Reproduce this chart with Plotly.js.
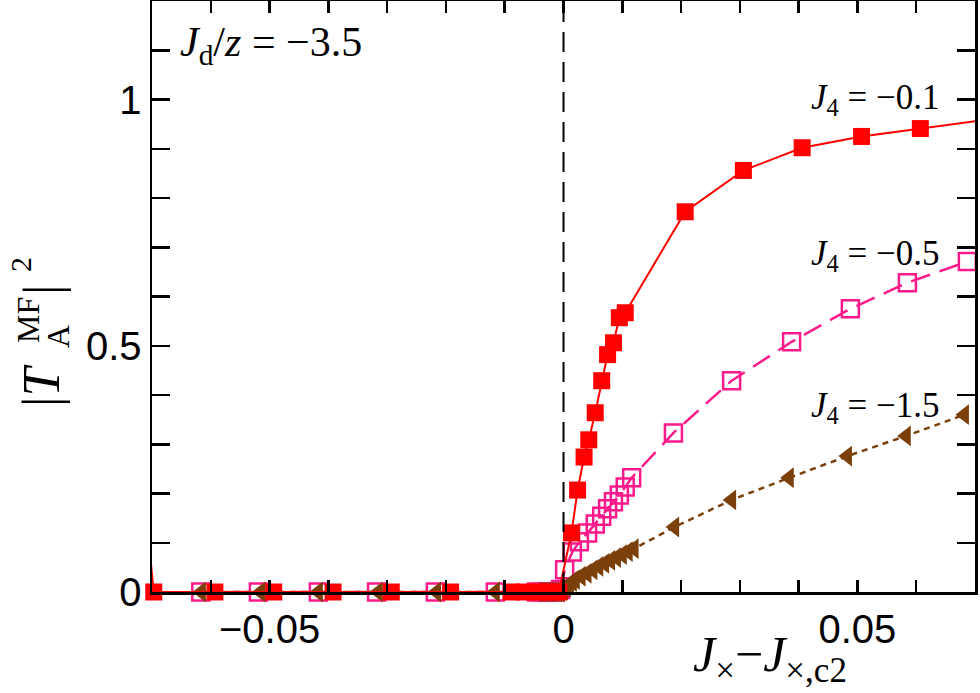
<!DOCTYPE html>
<html>
<head>
<meta charset="utf-8">
<script src="https://cdn.plot.ly/plotly-3.0.1.min.js"></script>
<style>
  html, body { margin: 0; padding: 0; background: #fff; }
  #plot { width: 980px; height: 693px; }
</style>
</head>
<body>
<div id="plot"></div>
<script>
// |T_A^MF|^2 versus J_x - J_x,c2 at J_d/z = -3.5, for three values of J4

// J4 = -0.1 (filled squares, solid line); first and last points lie just outside the x range
const xJ4m01 = [-0.0702, -0.0697, -0.0593, -0.0493, -0.0392, -0.0293, -0.0192, -0.0089, -0.0066, -0.0045, -0.0025, -0.0008,
                0.00136, 0.0024, 0.0035, 0.0043, 0.0054, 0.0065, 0.0075, 0.0085, 0.0095, 0.0105,
                0.0207, 0.0306, 0.0406, 0.0507, 0.0607, 0.0707];
const yJ4m01 = [0.06, 0, 0, 0, 0, 0, 0, 0, 0, 0, 0, 0,
                0.120, 0.207, 0.274, 0.309, 0.364, 0.429, 0.482, 0.506, 0.557, 0.567,
                0.772, 0.856, 0.902, 0.925, 0.941, 0.957];

// J4 = -0.5 (open squares, long-dashed line)
const xJ4m05 = [-0.0617, -0.0519, -0.0417, -0.0318, -0.0218, -0.0116, -0.0046, -0.0035, -0.0025, -0.0015, -0.0005,
                0.0002, 0.0015, 0.0027, 0.0041, 0.0054, 0.0065, 0.0075, 0.0085, 0.0095, 0.0105, 0.0116,
                0.0187, 0.0286, 0.0388, 0.0488, 0.0585, 0.0687];
const yJ4m05 = [0, 0, 0, 0, 0, 0, 0, 0, 0, 0, 0.005,
                0.045, 0.081, 0.102, 0.120, 0.138, 0.154, 0.169, 0.183, 0.197, 0.213, 0.232,
                0.323, 0.429, 0.508, 0.575, 0.628, 0.671];

// J4 = -1.5 (left triangles, short-dashed line)
const xJ4m15 = [-0.0616, -0.0515, -0.0417, -0.0315, -0.0216, -0.0116,
                -0.0045, -0.004, -0.0035, -0.003, -0.0025, -0.002, -0.0015, -0.001, -0.0005,
                0, 0.0005, 0.001, 0.0015, 0.002, 0.003, 0.004, 0.005, 0.006, 0.007, 0.008, 0.009, 0.010, 0.011, 0.012,
                0.0189, 0.0286, 0.0384, 0.0483, 0.0583, 0.0682];
const yJ4m15 = [0, 0, 0, 0, 0, 0,
                0, 0, 0, 0, 0, 0, 0, 0, 0,
                0.004, 0.010, 0.016, 0.021, 0.025, 0.032, 0.038, 0.045, 0.052, 0.058, 0.064, 0.070, 0.076, 0.082, 0.088,
                0.132, 0.187, 0.232, 0.276, 0.317, 0.360];

// axis ranges and ticks
const xRange = [-0.07, 0.07];
const yRange = [0, 1.2];
const xTickVals = [-0.05, 0, 0.05];
const xTickText = ['\u22120.05', '0', '0.05'];
const yTickVals = [0, 0.5, 1];
const yTickText = ['0', '0.5', '1'];

const RED = '#ff0000';
const PINK = '#ff1a8c';
const BROWN = '#7b3f0a';
const SERIF = 'Liberation Serif, Times New Roman, serif';
const SANS = 'Liberation Sans, Arial, sans-serif';

// markers are drawn unclipped (so points on the frame show whole); only points inside the x range get one
function inRange(xs, ys) {
  const keep = xs.map((v, i) => i).filter(i => xs[i] >= xRange[0] - 0.0004 && xs[i] <= xRange[1]);
  return { x: keep.map(i => xs[i]), y: keep.map(i => ys[i]) };
}

// lineAxes / markerAxes pick which (identical-range) axis pair a trace is drawn on
function series(xs, ys, line, marker, lineAxes, markerAxes) {
  const pts = inRange(xs, ys);
  return [
    Object.assign({ x: xs, y: ys, type: 'scatter', mode: 'lines', line: line, hoverinfo: 'skip' }, lineAxes || {}),
    Object.assign({ x: pts.x, y: pts.y, type: 'scatter', mode: 'markers', cliponaxis: false, marker: marker }, markerAxes || {})
  ];
}

const traces = [].concat(
  series(xJ4m05, yJ4m05,
    { color: PINK, width: 2.5, dash: '20px,10px' },
    { symbol: 'square-open', size: 17, color: PINK, line: { color: PINK, width: 2.5 } }),
  series(xJ4m15, yJ4m15,
    { color: BROWN, width: 2.5, dash: '6px,5px' },
    { symbol: 'triangle-left', size: 18, color: BROWN, line: { width: 0 } }),
  // the top-most series sits on the mirror axes, which carry the top and right tick marks
  series(xJ4m01, yJ4m01,
    { color: RED, width: 2 },
    { symbol: 'square', size: 17, color: RED, line: { width: 0 } },
    { xaxis: 'x2', yaxis: 'y' },
    { xaxis: 'x', yaxis: 'y2' })
);

// paper-coordinate helpers for placing text by pixel inside the 980x693 figure
const M = { l: 152, r: 5, t: 1, b: 101 };
const PW = 980 - M.l - M.r, PH = 693 - M.t - M.b;
const px = v => (v - M.l) / PW;
const py = v => (693 - M.b - v) / PH;

function label(text, cx, cy, size, extra) {
  return Object.assign({
    text: text, xref: 'paper', yref: 'paper', x: px(cx), y: py(cy),
    xanchor: 'center', yanchor: 'middle', showarrow: false,
    font: { family: SERIF, size: size, color: '#000' }
  }, extra || {});
}

const annotations = [
  label('<i>J</i><sub>d</sub>/<i>z</i> = \u22123.5', 178, 45, 42, { xanchor: 'left' }),
  label('<i>J</i><sub>4</sub> = \u22120.1', 942, 100, 35, { xanchor: 'right' }),
  label('<i>J</i><sub>4</sub> = \u22120.5', 942, 255, 35, { xanchor: 'right' }),
  label('<i>J</i><sub>4</sub> = \u22121.5', 942, 407, 35, { xanchor: 'right' }),
  // x-axis title
  label('<i>J</i><sub>\u00d7</sub>\u2212<i>J</i><sub>\u00d7,c2</sub>', 770, 658, 50),
  // y-axis title, built from rotated pieces so MF and A stack
  label('|<i>T</i>', 42, 386, 52, { textangle: -90 }),
  label('MF', 28, 320, 32, { textangle: -90 }),
  label('A', 58, 337, 32, { textangle: -90 }),
  label('|', 42, 290, 52, { textangle: -90 }),
  label('2', 20, 265, 30, { textangle: -90 })
];

const frame = { showline: true, linewidth: 2.5, linecolor: '#000', mirror: 'allticks', showgrid: false, zeroline: false };
const tickStyle = { tickwidth: 2.5, tickcolor: '#000' };

const layout = {
  width: 980, height: 693,
  margin: M,
  paper_bgcolor: '#fff', plot_bgcolor: '#fff',
  showlegend: false,
  xaxis: Object.assign({
    range: xRange,
    tickvals: xTickVals, ticktext: xTickText,
    ticks: 'inside', ticklen: 12,
    minor: Object.assign({ dtick: 0.01, tick0: 0, ticks: 'inside', ticklen: 11 }, tickStyle),
    tickfont: { family: SANS, size: 40, color: '#000' }
  }, frame, tickStyle),
  yaxis: Object.assign({
    range: yRange,
    tickvals: yTickVals, ticktext: yTickText,
    ticks: 'inside', ticklen: 18,
    minor: Object.assign({ dtick: 0.1, tick0: 0, ticks: 'inside', ticklen: 12 }, tickStyle),
    tickfont: { family: SANS, size: 40, color: '#000' }
  }, frame, tickStyle),
  // tick marks along the top and right edges of the frame
  xaxis2: Object.assign({
    overlaying: 'x', side: 'top', anchor: 'y', range: xRange,
    tickvals: xTickVals, showticklabels: false, ticks: 'inside', ticklen: 12,
    minor: Object.assign({ dtick: 0.01, tick0: 0, ticks: 'inside', ticklen: 12 }, tickStyle),
    showline: false, showgrid: false, zeroline: false
  }, tickStyle),
  yaxis2: Object.assign({
    overlaying: 'y', side: 'right', anchor: 'x', range: yRange,
    tickvals: yTickVals, showticklabels: false, ticks: 'inside', ticklen: 15,
    minor: Object.assign({ dtick: 0.1, tick0: 0, ticks: 'inside', ticklen: 15 }, tickStyle),
    showline: false, showgrid: false, zeroline: false
  }, tickStyle),
  shapes: [
    { type: 'line', xref: 'x', yref: 'paper', x0: 0, x1: 0, y0: 0, y1: 1, layer: 'above',
      line: { color: '#000', width: 2, dash: '20px,10px' } }
  ],
  annotations: annotations
};

Plotly.newPlot('plot', traces, layout, { staticPlot: true, displayModeBar: false });
</script>
</body>
</html>
